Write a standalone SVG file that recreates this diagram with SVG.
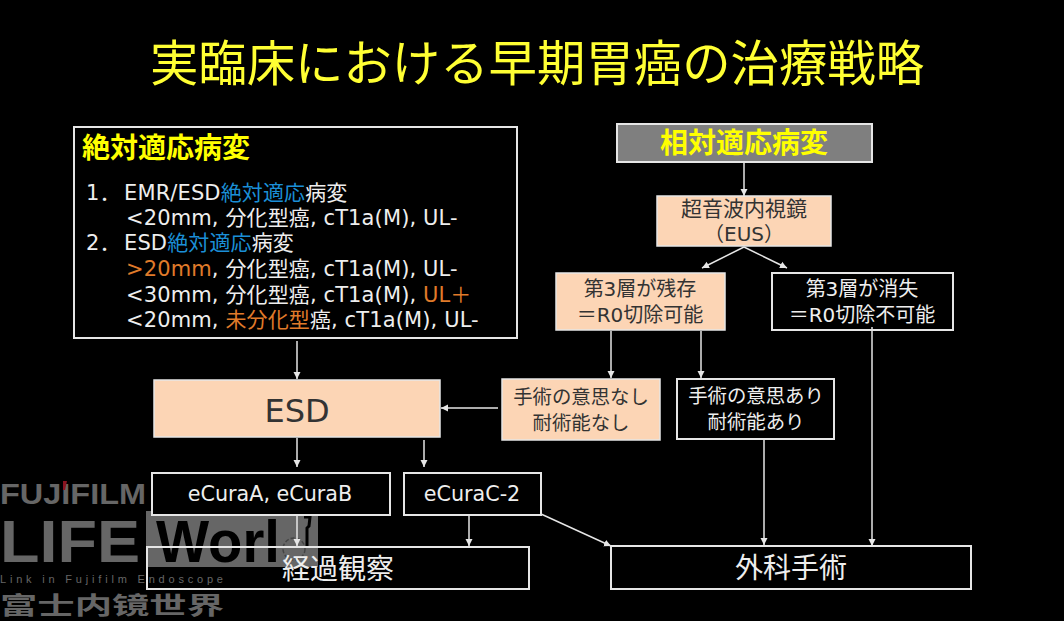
<svg xmlns="http://www.w3.org/2000/svg" width="1064" height="621" viewBox="0 0 1064 621">
<style>
text{font-family:"DejaVu Sans","Noto Sans CJK JP",sans-serif;fill:#eee}
.b{fill:#000;stroke:#e6e6e6;stroke-width:2}
.p{fill:#fcd5b5;stroke:#e6e6e6;stroke-width:1.5}
.d{fill:#333}
.m{font-size:20px}
.t{font-size:21px;letter-spacing:.12px}
.e{font-size:20.7px}
.c{text-anchor:middle}
.o{fill:#e07b2a}
.u{fill:#1b8fd6}
.y{fill:#ff0;font-weight:bold}
.w{fill:#666;font-family:"Liberation Sans",sans-serif;font-weight:bold}
.l{stroke:#e6e6e6;stroke-width:1.5;fill:none;marker-end:url(#a)}
</style>
<defs><marker id="a" markerUnits="userSpaceOnUse" markerWidth="8" markerHeight="8" refX="7" refY="4" orient="auto"><path d="M0 0.5L7 4L0 7.5Z" fill="#e6e6e6"/></marker></defs>
<rect width="1064" height="621" fill="#000"/>
<text id="title" x="537" y="81" class="c" style="fill:#ffff33;font-size:48.4px">実臨床における早期胃癌の治療戦略</text>
<g id="absolute">
<rect class="b" x="74" y="127" width="443" height="211"/>
<text x="82" y="158" class="y" font-size="28">絶対適応病変</text>
<text x="86" y="200" class="t">1．</text><text x="124" y="200" class="t">EMR/ESD<tspan class="u">絶対適応</tspan>病変</text>
<text x="126" y="225" class="t">&lt;20mm, 分化型癌, cT1a(M), UL-</text>
<text x="86" y="250" class="t">2．</text><text x="124" y="250" class="t">ESD<tspan class="u">絶対適応</tspan>病変</text>
<text x="126" y="276" class="t"><tspan class="o">&gt;20mm</tspan>, 分化型癌, cT1a(M), UL-</text>
<text x="126" y="302" class="t">&lt;30mm, 分化型癌, cT1a(M), <tspan class="o">UL＋</tspan></text>
<text x="126" y="327" class="t">&lt;20mm, <tspan class="o">未分化型</tspan>癌, cT1a(M), UL-</text>
</g>
<g id="relative"><rect x="617" y="124" width="255" height="38" fill="#7f7f7f" stroke="#e6e6e6" stroke-width="2"/><text x="744" y="153" class="c y" font-size="28">相対適応病変</text></g>
<g id="eus"><rect class="p" x="657" y="196" width="174" height="50"/><text x="744" y="216" class="c d" font-size="21">超音波内視鏡</text><text x="744" y="241" class="c d m">（EUS）</text></g>
<g id="remain"><rect class="p" x="556" y="273" width="169" height="57"/><text x="640" y="296" class="c d m">第3層が残存</text><text x="640" y="322" class="c d m">＝R0切除可能</text></g>
<g id="lost"><rect class="b" x="772" y="273" width="181" height="57"/><text x="862" y="296" class="c m">第3層が消失</text><text x="862" y="322" class="c m">＝R0切除不可能</text></g>
<g id="esd"><rect class="p" x="154" y="380" width="286" height="57"/><text x="297" y="422" class="c d" font-size="32">ESD</text></g>
<g id="nowish"><rect class="p" x="502" y="379" width="158" height="61"/><text x="581" y="404" class="c d" font-size="19.4">手術の意思なし</text><text x="581" y="430" class="c d" font-size="19.4">耐術能なし</text></g>
<g id="wish"><rect class="b" x="677" y="379" width="157" height="60"/><text x="756" y="403" class="c" font-size="19.4">手術の意思あり</text><text x="756" y="429" class="c" font-size="19.4">耐術能あり</text></g>
<g id="watermark">
<text x="0" y="504" class="w" style="font-size:30px" textLength="146" lengthAdjust="spacingAndGlyphs">FUJIFILM</text>
<path d="M63 481h4l-2 9h-2z" fill="#8a1420"/>
<rect x="146" y="511" width="172" height="56" fill="#666"/>
<text x="0" y="562" class="w" style="font-size:60px" textLength="140" lengthAdjust="spacingAndGlyphs">LIFE</text>
<text x="156" y="562" style="fill:#000;font-family:'Liberation Sans',sans-serif;font-weight:bold;font-size:60px" textLength="124" lengthAdjust="spacingAndGlyphs">Worl</text>
<path d="M304 517h6l-1 9-2 2v18" fill="none" stroke="#000" stroke-width="3"/>
<circle cx="294" cy="549" r="11" fill="none" stroke="#444" stroke-width="1.5" stroke-dasharray="4 2"/>
<text x="0" y="583" class="w" style="font-size:11px;font-weight:normal" textLength="223">Link in Fujifilm Endoscope</text>
<text x="0" y="614" style="fill:#666;font-size:24px;font-weight:bold;font-family:'Noto Sans CJK SC',sans-serif" textLength="224" lengthAdjust="spacingAndGlyphs">富士内镜世界</text>
</g>
<g id="ecab"><rect x="152" y="473" width="238" height="42" fill="#000" stroke="#e6e6e6" stroke-width="2"/><text x="270" y="501" class="c e">eCuraA, eCuraB</text></g>
<g id="ecc"><rect class="b" x="404" y="473" width="137" height="42"/><text x="472" y="501" class="c e">eCuraC-2</text></g>
<g id="obs"><rect x="147" y="547" width="382" height="42" fill="none" stroke="#e6e6e6" stroke-width="2"/><text x="338" y="579" class="c" font-size="28">経過観察</text></g>
<g id="surgery"><rect class="b" x="611" y="546" width="360" height="43"/><text x="791" y="578" class="c" font-size="28">外科手術</text></g>
<g id="connectors">
<path class="l" d="M744 162V196"/>
<path class="l" d="M744 247L702 268"/><path class="l" d="M744 247L787 268"/>
<path class="l" d="M297 341V379"/>
<path class="l" d="M611 331V378"/><path class="l" d="M701 331V378"/>
<path class="l" d="M872 327V546"/>
<path class="l" d="M498 408H441"/>
<path class="l" d="M297 438V467"/><path class="l" d="M424 440V467"/>
<path class="l" d="M297 516V546"/><path class="l" d="M469 516V546"/>
<path class="l" d="M764 440V545"/>
<path class="l" d="M541 514L611 546"/>
</g>
</svg>
